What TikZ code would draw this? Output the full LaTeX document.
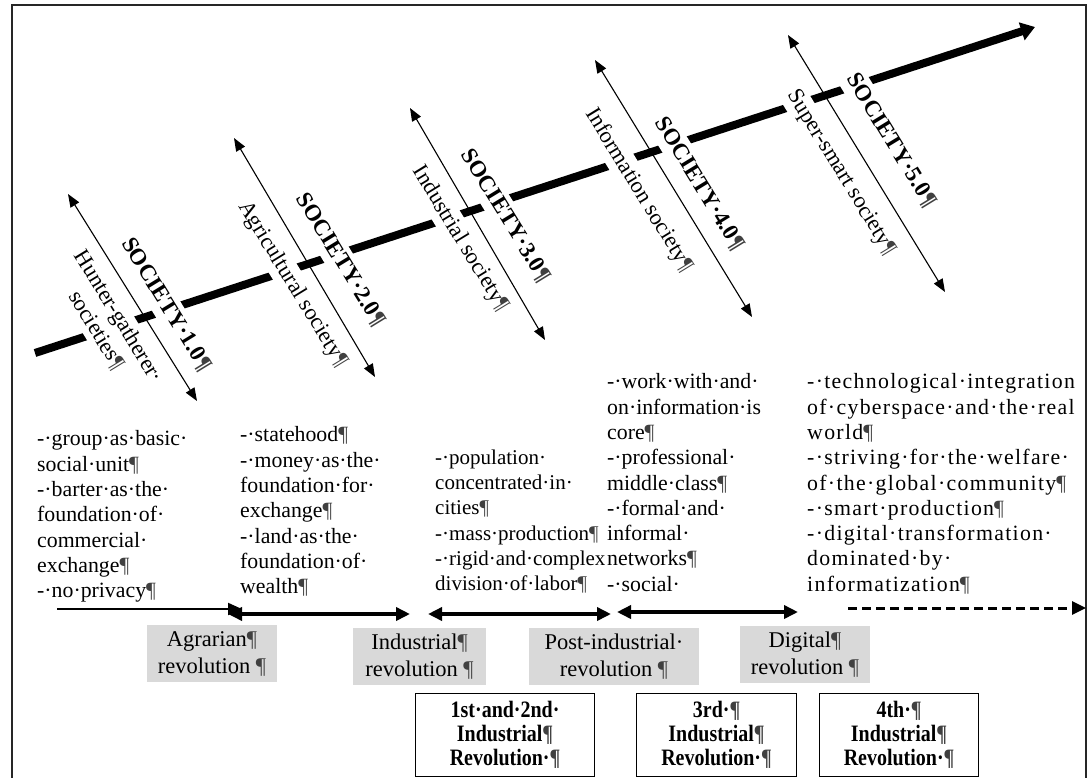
\documentclass[tikz,border=0pt]{standalone}
\usepackage{fontspec}
\setmainfont{Liberation Serif}
\newfontfamily\widefont[LetterSpace=6]{Liberation Serif}
\newfontfamily\condfont[FakeStretch=0.85]{Liberation Serif}
\usetikzlibrary{arrows.meta}
\newcommand\pil{{\color{black!75}¶}}
\begin{document}
\begin{tikzpicture}[x=1pt,y=-1pt,
  body/.style={font=\fontsize{21.8}{25.3}\selectfont, align=left, anchor=north west, inner sep=0pt},
  soc/.style={font=\bfseries\fontsize{23}{25}\selectfont, fill=white, rotate=-58.5, inner xsep=2pt, inner ysep=4pt, text height=16pt, text depth=5pt},
  sname/.style={font=\fontsize{22.5}{26}\selectfont, fill=white, rotate=-58.5, inner xsep=2pt, inner ysep=4pt, align=center},
  revbox/.style={fill=black!15, inner sep=0pt, minimum height=57pt, align=center, font=\fontsize{22.5}{27}\selectfont},
  indbox/.style={draw, line width=1.2pt, anchor=north west, inner sep=0pt, minimum height=83pt, align=center, font=\condfont\bfseries\fontsize{23.5}{24}\selectfont},
  thinarr/.style={line width=1.1pt, {Triangle[length=13pt,width=10pt]}-{Triangle[length=13pt,width=10pt]}},
  harr/.style={line width=3.5pt, {Triangle[length=14pt,width=13pt]}-{Triangle[length=14pt,width=13pt]}},
  mainarr/.style={line width=8pt, -{Triangle[length=14pt,width=18pt]}}
]
\useasboundingbox (0,0) rectangle (1089,777);
% frame
\draw[line width=2.5pt, black!85] (12,5) rectangle (1086,800);

% main thick timeline
\coordinate (ts) at (35,353);
\coordinate (te) at (1035,27);
\draw[mainarr] (ts) -- (te);

% rotated labels (white background)
\node[soc]   (s1) at (165.5,305.1) {SOCIETY·1.0\pil};
\node[sname] (n1) at (107.6,323.5) {Hunter-gatherer·\\societies\pil};
\node[soc]   (s2) at (340.1,260.5) {SOCIETY·2.0\pil};
\node[sname] (n2) at (292.4,284.1) {Agricultural society\pil};
\node[soc]   (s3) at (505.2,216.3) {SOCIETY·3.0\pil};
\node[sname] (n3) at (460.3,238.8) {Industrial society\pil};
\node[soc]   (s4) at (699,184.3) {SOCIETY·4.0\pil};
\node[sname] (n4) at (638.8,190.3) {Information society\pil};
\node[soc]   (s5) at (890.7,141) {SOCIETY·5.0\pil};
\node[sname] (n5) at (841,172.8) {Super-smart society\pil};

% thin double arrows
\coordinate (a1t) at (68,194);  \coordinate (a1b) at (197,401);
\coordinate (a2t) at (234,138); \coordinate (a2b) at (375,377);
\coordinate (a3t) at (410,108); \coordinate (a3b) at (545,340);
\coordinate (a4t) at (595,60);  \coordinate (a4b) at (752,317);
\coordinate (a5t) at (788,35);  \coordinate (a5b) at (945,292);
\draw[thinarr] (a1t) -- (a1b);
\draw[thinarr] (a2t) -- (a2b);
\draw[thinarr] (a3t) -- (a3b);
\draw[thinarr] (a4t) -- (a4b);
\draw[thinarr] (a5t) -- (a5b);

% text blocks
\node[body] (b1) at (37,430.5) {-·group·as·basic·\\social·unit\pil\\-·barter·as·the·\\foundation·of·\\commercial·\\exchange\pil\\-·no·privacy\pil};
\node[body] (b2) at (240,426.5) {-·statehood\pil\\-·money·as·the·\\foundation·for·\\exchange\pil\\-·land·as·the·\\foundation·of·\\wealth\pil};
\node[body, font=\fontsize{21}{25.3}\selectfont] (b3) at (435,449.5) {-·population·\\concentrated·in·\\cities\pil\\-·mass·production\pil\\-·rigid·and·complex\\division·of·labor\pil};
\node[body] (b4) at (607,373.5) {-·work·with·and·\\on·information·is\\core\pil\\-·professional·\\middle·class\pil\\-·formal·and·\\informal·\\networks\pil\\-·social·};
\node[body, font=\widefont\fontsize{21.8}{25.3}\selectfont] (b5) at (807,373.5) {-·technological·integration\\of·cyberspace·and·the·real\\world\pil\\-·striving·for·the·welfare·\\of·the·global·community\pil\\-·smart·production\pil\\-·digital·transformation·\\dominated·by·\\informatization\pil};

% horizontal period arrows
\coordinate (h1a) at (57,609);  \coordinate (h1b) at (242,609);
\coordinate (h2a) at (228,614); \coordinate (h2b) at (410,614);
\coordinate (h3a) at (428,614); \coordinate (h3b) at (611,614);
\coordinate (h4a) at (617,612); \coordinate (h4b) at (798,612);
\coordinate (h5a) at (848,608); \coordinate (h5b) at (1086,608);
\draw[line width=2pt, -{Triangle[length=14pt,width=12pt]}] (h1a) -- (h1b);
\draw[harr] (h2a) -- (h2b);
\draw[harr] (h3a) -- (h3b);
\draw[harr] (h4a) -- (h4b);
\draw[line width=3pt, dash pattern=on 9pt off 5pt, -{Triangle[length=14pt,width=13pt]}] (h5a) -- (h5b);

% revolution boxes
\node[revbox, minimum width=130pt] (r1) at (212,653.5) {Agrarian\pil\\revolution\ \pil};
\node[revbox, minimum width=133pt] (r2) at (419.5,656.5) {Industrial\pil\\revolution\ \pil};
\node[revbox, minimum width=170pt] (r3) at (614,656.5) {Post-industrial·\\revolution\ \pil};
\node[revbox, minimum width=130pt] (r4) at (805,654.5) {Digital\pil\\revolution\ \pil};

% industrial revolution boxes
\node[indbox, minimum width=179pt] (i1) at (415,693) {1st·and·2nd·\\Industrial\pil\\Revolution·\pil};
\node[indbox, minimum width=160pt] (i2) at (636,693) {3rd·\pil\\Industrial\pil\\Revolution·\pil};
\node[indbox, minimum width=159pt] (i3) at (819,693) {4th·\pil\\Industrial\pil\\Revolution·\pil};
\end{tikzpicture}
\end{document}
